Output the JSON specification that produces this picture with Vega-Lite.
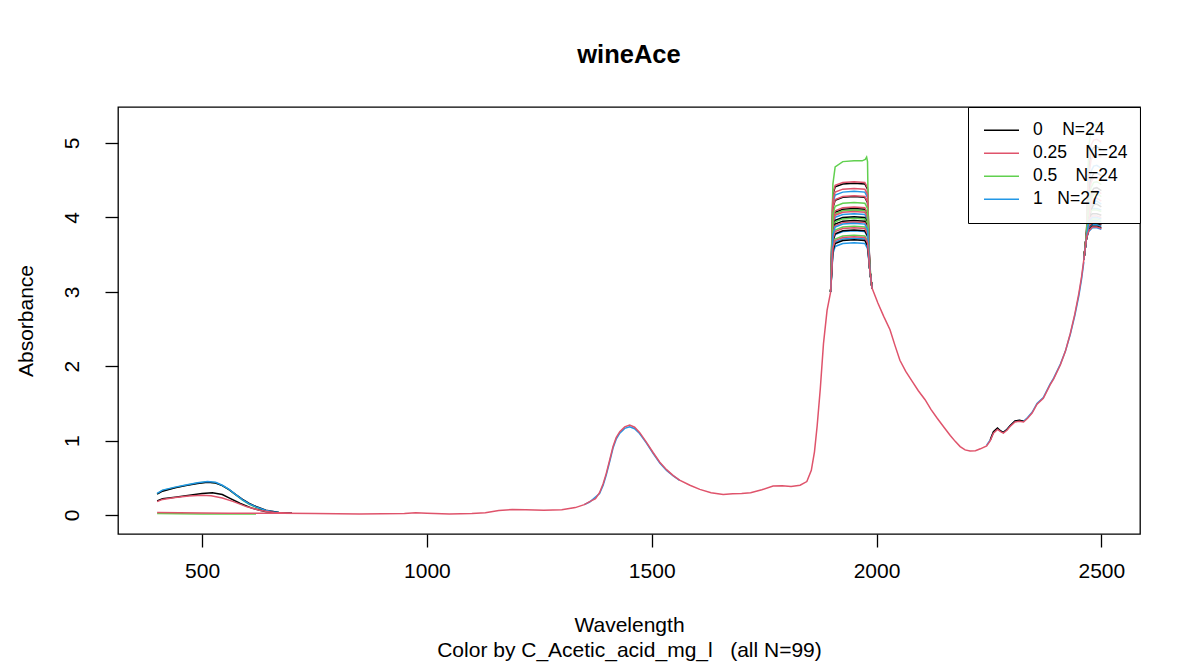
{
  "$schema": "https://vega.github.io/schema/vega-lite/v6.json",
  "width": 1022,
  "height": 427,
  "autosize": {"type": "none"},
  "padding": {"left": 118, "top": 107, "right": 37, "bottom": 128},
  "background": "white",
  "title": {"text": "wineAce", "fontSize": 25.5, "fontWeight": "bold", "font": "Liberation Sans", "color": "black", "anchor": "middle", "baseline": "alphabetic", "offset": 18},
  "config": {"view": {"stroke": "black", "strokeWidth": 1.3}, "font": "Liberation Sans"},
  "layer": [
    {
      "mark": {"type": "rule", "color": "#BEBEBE", "strokeWidth": 1.2},
      "encoding": {"y": {"datum": 0, "type": "quantitative"}}
    },
    {
      "data": {"values": [
        {"s":"k5v","g":"0.5","w":400,"a":0.285},{"s":"k5v","g":"0.5","w":412,"a":0.33},{"s":"k5v","g":"0.5","w":440,"a":0.37},{"s":"k5v","g":"0.5","w":464,"a":0.40},{"s":"k5v","g":"0.5","w":490,"a":0.43},{"s":"k5v","g":"0.5","w":512,"a":0.445},{"s":"k5v","g":"0.5","w":530,"a":0.435},{"s":"k5v","g":"0.5","w":545,"a":0.395},{"s":"k5v","g":"0.5","w":560,"a":0.34},{"s":"k5v","g":"0.5","w":575,"a":0.27},{"s":"k5v","g":"0.5","w":590,"a":0.2},{"s":"k5v","g":"0.5","w":605,"a":0.145},{"s":"k5v","g":"0.5","w":620,"a":0.105},{"s":"k5v","g":"0.5","w":642,"a":0.055},{"s":"k5v","g":"0.5","w":671,"a":0.03},{"s":"k5v","g":"0.5","w":700,"a":0.025},
        {"s":"k4v","g":"0","w":400,"a":0.28},{"s":"k4v","g":"0","w":412,"a":0.32},{"s":"k4v","g":"0","w":440,"a":0.365},{"s":"k4v","g":"0","w":464,"a":0.395},{"s":"k4v","g":"0","w":490,"a":0.425},{"s":"k4v","g":"0","w":512,"a":0.44},{"s":"k4v","g":"0","w":530,"a":0.43},{"s":"k4v","g":"0","w":545,"a":0.395},{"s":"k4v","g":"0","w":560,"a":0.34},{"s":"k4v","g":"0","w":575,"a":0.275},{"s":"k4v","g":"0","w":590,"a":0.21},{"s":"k4v","g":"0","w":605,"a":0.155},{"s":"k4v","g":"0","w":620,"a":0.115},{"s":"k4v","g":"0","w":642,"a":0.065},{"s":"k4v","g":"0","w":671,"a":0.035},{"s":"k4v","g":"0","w":700,"a":0.025},
        {"s":"k2v","g":"1","w":400,"a":0.29},{"s":"k2v","g":"1","w":412,"a":0.335},{"s":"k2v","g":"1","w":440,"a":0.375},{"s":"k2v","g":"1","w":464,"a":0.405},{"s":"k2v","g":"1","w":490,"a":0.435},{"s":"k2v","g":"1","w":512,"a":0.45},{"s":"k2v","g":"1","w":530,"a":0.44},{"s":"k2v","g":"1","w":545,"a":0.40},{"s":"k2v","g":"1","w":560,"a":0.345},{"s":"k2v","g":"1","w":575,"a":0.275},{"s":"k2v","g":"1","w":590,"a":0.205},{"s":"k2v","g":"1","w":605,"a":0.15},{"s":"k2v","g":"1","w":620,"a":0.11},{"s":"k2v","g":"1","w":642,"a":0.06},{"s":"k2v","g":"1","w":671,"a":0.035},{"s":"k2v","g":"1","w":700,"a":0.025},
        {"s":"k1v","g":"0","w":400,"a":0.19},{"s":"k1v","g":"0","w":412,"a":0.22},{"s":"k1v","g":"0","w":440,"a":0.24},{"s":"k1v","g":"0","w":464,"a":0.26},{"s":"k1v","g":"0","w":500,"a":0.29},{"s":"k1v","g":"0","w":523,"a":0.30},{"s":"k1v","g":"0","w":545,"a":0.275},{"s":"k1v","g":"0","w":560,"a":0.23},{"s":"k1v","g":"0","w":585,"a":0.155},{"s":"k1v","g":"0","w":612,"a":0.09},{"s":"k1v","g":"0","w":642,"a":0.045},{"s":"k1v","g":"0","w":671,"a":0.03},{"s":"k1v","g":"0","w":700,"a":0.025},
        {"s":"k3v","g":"0.25","w":400,"a":0.18},{"s":"k3v","g":"0.25","w":412,"a":0.21},{"s":"k3v","g":"0.25","w":440,"a":0.235},{"s":"k3v","g":"0.25","w":470,"a":0.255},{"s":"k3v","g":"0.25","w":500,"a":0.265},{"s":"k3v","g":"0.25","w":520,"a":0.26},{"s":"k3v","g":"0.25","w":545,"a":0.23},{"s":"k3v","g":"0.25","w":570,"a":0.18},{"s":"k3v","g":"0.25","w":600,"a":0.11},{"s":"k3v","g":"0.25","w":630,"a":0.06},{"s":"k3v","g":"0.25","w":660,"a":0.035},{"s":"k3v","g":"0.25","w":700,"a":0.025},
        {"s":"gv","g":"0.5","w":400,"a":0.02},{"s":"gv","g":"0.5","w":450,"a":0.018},{"s":"gv","g":"0.5","w":500,"a":0.015},{"s":"gv","g":"0.5","w":560,"a":0.013},{"s":"gv","g":"0.5","w":620,"a":0.015},

        {"s":"k1p","g":"0","w":1898,"a":3.0},{"s":"k1p","g":"0","w":1903,"a":4.31},{"s":"k1p","g":"0","w":1908,"a":4.41},{"s":"k1p","g":"0","w":1925,"a":4.45},{"s":"k1p","g":"0","w":1950,"a":4.46},{"s":"k1p","g":"0","w":1974,"a":4.45},{"s":"k1p","g":"0","w":1980,"a":4.38},{"s":"k1p","g":"0","w":1985,"a":3.3},{"s":"k1p","g":"0","w":1990,"a":3.05},
        {"s":"k2p","g":"1","w":1898,"a":3.0},{"s":"k2p","g":"1","w":1903,"a":4.20},{"s":"k2p","g":"1","w":1908,"a":4.30},{"s":"k2p","g":"1","w":1925,"a":4.34},{"s":"k2p","g":"1","w":1950,"a":4.35},{"s":"k2p","g":"1","w":1974,"a":4.34},{"s":"k2p","g":"1","w":1980,"a":4.27},{"s":"k2p","g":"1","w":1985,"a":3.3},{"s":"k2p","g":"1","w":1990,"a":3.05},
        {"s":"k3p","g":"0.25","w":1898,"a":3.0},{"s":"k3p","g":"0.25","w":1903,"a":4.33},{"s":"k3p","g":"0.25","w":1908,"a":4.43},{"s":"k3p","g":"0.25","w":1925,"a":4.47},{"s":"k3p","g":"0.25","w":1950,"a":4.48},{"s":"k3p","g":"0.25","w":1974,"a":4.47},{"s":"k3p","g":"0.25","w":1980,"a":4.40},{"s":"k3p","g":"0.25","w":1985,"a":3.3},{"s":"k3p","g":"0.25","w":1990,"a":3.05},
        {"s":"k4p","g":"0","w":1898,"a":3.0},{"s":"k4p","g":"0","w":1903,"a":4.13},{"s":"k4p","g":"0","w":1908,"a":4.23},{"s":"k4p","g":"0","w":1925,"a":4.27},{"s":"k4p","g":"0","w":1950,"a":4.28},{"s":"k4p","g":"0","w":1974,"a":4.27},{"s":"k4p","g":"0","w":1980,"a":4.20},{"s":"k4p","g":"0","w":1985,"a":3.3},{"s":"k4p","g":"0","w":1990,"a":3.05},
        {"s":"k5p","g":"0.5","w":1898,"a":3.0},{"s":"k5p","g":"0.5","w":1903,"a":4.45},{"s":"k5p","g":"0.5","w":1908,"a":4.68},{"s":"k5p","g":"0.5","w":1925,"a":4.75},{"s":"k5p","g":"0.5","w":1950,"a":4.76},{"s":"k5p","g":"0.5","w":1968,"a":4.76},{"s":"k5p","g":"0.5","w":1975,"a":4.78},{"s":"k5p","g":"0.5","w":1978,"a":4.81},{"s":"k5p","g":"0.5","w":1980,"a":4.75},{"s":"k5p","g":"0.5","w":1983,"a":3.5},{"s":"k5p","g":"0.5","w":1990,"a":3.05},
        {"s":"k6p","g":"0.25","w":1898,"a":3.0},{"s":"k6p","g":"0.25","w":1903,"a":4.24},{"s":"k6p","g":"0.25","w":1908,"a":4.34},{"s":"k6p","g":"0.25","w":1925,"a":4.38},{"s":"k6p","g":"0.25","w":1950,"a":4.39},{"s":"k6p","g":"0.25","w":1974,"a":4.38},{"s":"k6p","g":"0.25","w":1980,"a":4.31},{"s":"k6p","g":"0.25","w":1985,"a":3.3},{"s":"k6p","g":"0.25","w":1990,"a":3.05},
        {"s":"k7p","g":"1","w":1898,"a":3.0},{"s":"k7p","g":"1","w":1903,"a":3.90},{"s":"k7p","g":"1","w":1908,"a":4.00},{"s":"k7p","g":"1","w":1925,"a":4.04},{"s":"k7p","g":"1","w":1950,"a":4.05},{"s":"k7p","g":"1","w":1974,"a":4.04},{"s":"k7p","g":"1","w":1980,"a":3.97},{"s":"k7p","g":"1","w":1985,"a":3.3},{"s":"k7p","g":"1","w":1990,"a":3.05},
        {"s":"k8p","g":"0","w":1898,"a":3.0},{"s":"k8p","g":"0","w":1903,"a":3.97},{"s":"k8p","g":"0","w":1908,"a":4.07},{"s":"k8p","g":"0","w":1925,"a":4.11},{"s":"k8p","g":"0","w":1950,"a":4.12},{"s":"k8p","g":"0","w":1974,"a":4.11},{"s":"k8p","g":"0","w":1980,"a":4.04},{"s":"k8p","g":"0","w":1985,"a":3.3},{"s":"k8p","g":"0","w":1990,"a":3.05},
        {"s":"k9p","g":"0.5","w":1898,"a":3.0},{"s":"k9p","g":"0.5","w":1903,"a":3.95},{"s":"k9p","g":"0.5","w":1908,"a":4.05},{"s":"k9p","g":"0.5","w":1925,"a":4.09},{"s":"k9p","g":"0.5","w":1950,"a":4.10},{"s":"k9p","g":"0.5","w":1974,"a":4.09},{"s":"k9p","g":"0.5","w":1980,"a":4.02},{"s":"k9p","g":"0.5","w":1985,"a":3.3},{"s":"k9p","g":"0.5","w":1990,"a":3.05},
        {"s":"k10p","g":"0.25","w":1898,"a":3.0},{"s":"k10p","g":"0.25","w":1903,"a":4.14},{"s":"k10p","g":"0.25","w":1908,"a":4.24},{"s":"k10p","g":"0.25","w":1925,"a":4.28},{"s":"k10p","g":"0.25","w":1950,"a":4.29},{"s":"k10p","g":"0.25","w":1974,"a":4.28},{"s":"k10p","g":"0.25","w":1980,"a":4.21},{"s":"k10p","g":"0.25","w":1985,"a":3.3},{"s":"k10p","g":"0.25","w":1990,"a":3.05},
        {"s":"k11p","g":"1","w":1898,"a":3.0},{"s":"k11p","g":"1","w":1903,"a":3.85},{"s":"k11p","g":"1","w":1908,"a":3.95},{"s":"k11p","g":"1","w":1925,"a":3.99},{"s":"k11p","g":"1","w":1950,"a":4.00},{"s":"k11p","g":"1","w":1974,"a":3.99},{"s":"k11p","g":"1","w":1980,"a":3.92},{"s":"k11p","g":"1","w":1985,"a":3.3},{"s":"k11p","g":"1","w":1990,"a":3.05},
        {"s":"k12p","g":"0","w":1898,"a":3.0},{"s":"k12p","g":"0","w":1903,"a":3.86},{"s":"k12p","g":"0","w":1908,"a":3.96},{"s":"k12p","g":"0","w":1925,"a":4.00},{"s":"k12p","g":"0","w":1950,"a":4.01},{"s":"k12p","g":"0","w":1974,"a":4.00},{"s":"k12p","g":"0","w":1980,"a":3.93},{"s":"k12p","g":"0","w":1985,"a":3.3},{"s":"k12p","g":"0","w":1990,"a":3.05},
        {"s":"k13p","g":"0.5","w":1898,"a":3.0},{"s":"k13p","g":"0.5","w":1903,"a":3.84},{"s":"k13p","g":"0.5","w":1908,"a":3.94},{"s":"k13p","g":"0.5","w":1925,"a":3.98},{"s":"k13p","g":"0.5","w":1950,"a":3.99},{"s":"k13p","g":"0.5","w":1974,"a":3.98},{"s":"k13p","g":"0.5","w":1980,"a":3.91},{"s":"k13p","g":"0.5","w":1985,"a":3.3},{"s":"k13p","g":"0.5","w":1990,"a":3.05},
        {"s":"k14p","g":"0.25","w":1898,"a":3.0},{"s":"k14p","g":"0.25","w":1903,"a":3.99},{"s":"k14p","g":"0.25","w":1908,"a":4.09},{"s":"k14p","g":"0.25","w":1925,"a":4.13},{"s":"k14p","g":"0.25","w":1950,"a":4.14},{"s":"k14p","g":"0.25","w":1974,"a":4.13},{"s":"k14p","g":"0.25","w":1980,"a":4.06},{"s":"k14p","g":"0.25","w":1985,"a":3.3},{"s":"k14p","g":"0.25","w":1990,"a":3.05},
        {"s":"k15p","g":"1","w":1898,"a":3.0},{"s":"k15p","g":"1","w":1903,"a":3.67},{"s":"k15p","g":"1","w":1908,"a":3.77},{"s":"k15p","g":"1","w":1925,"a":3.81},{"s":"k15p","g":"1","w":1950,"a":3.82},{"s":"k15p","g":"1","w":1974,"a":3.81},{"s":"k15p","g":"1","w":1980,"a":3.74},{"s":"k15p","g":"1","w":1985,"a":3.3},{"s":"k15p","g":"1","w":1990,"a":3.05},
        {"s":"k16p","g":"0","w":1898,"a":3.0},{"s":"k16p","g":"0","w":1903,"a":3.81},{"s":"k16p","g":"0","w":1908,"a":3.91},{"s":"k16p","g":"0","w":1925,"a":3.95},{"s":"k16p","g":"0","w":1950,"a":3.96},{"s":"k16p","g":"0","w":1974,"a":3.95},{"s":"k16p","g":"0","w":1980,"a":3.88},{"s":"k16p","g":"0","w":1985,"a":3.3},{"s":"k16p","g":"0","w":1990,"a":3.05},
        {"s":"k17p","g":"0.5","w":1898,"a":3.0},{"s":"k17p","g":"0.5","w":1903,"a":3.73},{"s":"k17p","g":"0.5","w":1908,"a":3.83},{"s":"k17p","g":"0.5","w":1925,"a":3.87},{"s":"k17p","g":"0.5","w":1950,"a":3.88},{"s":"k17p","g":"0.5","w":1974,"a":3.87},{"s":"k17p","g":"0.5","w":1980,"a":3.80},{"s":"k17p","g":"0.5","w":1985,"a":3.3},{"s":"k17p","g":"0.5","w":1990,"a":3.05},
        {"s":"k18p","g":"0.25","w":1898,"a":3.0},{"s":"k18p","g":"0.25","w":1903,"a":3.93},{"s":"k18p","g":"0.25","w":1908,"a":4.03},{"s":"k18p","g":"0.25","w":1925,"a":4.07},{"s":"k18p","g":"0.25","w":1950,"a":4.08},{"s":"k18p","g":"0.25","w":1974,"a":4.07},{"s":"k18p","g":"0.25","w":1980,"a":4.00},{"s":"k18p","g":"0.25","w":1985,"a":3.3},{"s":"k18p","g":"0.25","w":1990,"a":3.05},
        {"s":"k19p","g":"1","w":1898,"a":3.0},{"s":"k19p","g":"1","w":1903,"a":3.57},{"s":"k19p","g":"1","w":1908,"a":3.67},{"s":"k19p","g":"1","w":1925,"a":3.71},{"s":"k19p","g":"1","w":1950,"a":3.72},{"s":"k19p","g":"1","w":1974,"a":3.71},{"s":"k19p","g":"1","w":1980,"a":3.64},{"s":"k19p","g":"1","w":1985,"a":3.3},{"s":"k19p","g":"1","w":1990,"a":3.05},
        {"s":"k20p","g":"0","w":1898,"a":3.0},{"s":"k20p","g":"0","w":1903,"a":3.68},{"s":"k20p","g":"0","w":1908,"a":3.78},{"s":"k20p","g":"0","w":1925,"a":3.82},{"s":"k20p","g":"0","w":1950,"a":3.83},{"s":"k20p","g":"0","w":1974,"a":3.82},{"s":"k20p","g":"0","w":1980,"a":3.75},{"s":"k20p","g":"0","w":1985,"a":3.3},{"s":"k20p","g":"0","w":1990,"a":3.05},
        {"s":"k21p","g":"0.5","w":1898,"a":3.0},{"s":"k21p","g":"0.5","w":1903,"a":3.61},{"s":"k21p","g":"0.5","w":1908,"a":3.71},{"s":"k21p","g":"0.5","w":1925,"a":3.75},{"s":"k21p","g":"0.5","w":1950,"a":3.76},{"s":"k21p","g":"0.5","w":1974,"a":3.75},{"s":"k21p","g":"0.5","w":1980,"a":3.68},{"s":"k21p","g":"0.5","w":1985,"a":3.3},{"s":"k21p","g":"0.5","w":1990,"a":3.05},
        {"s":"k22p","g":"0.25","w":1898,"a":3.0},{"s":"k22p","g":"0.25","w":1903,"a":3.79},{"s":"k22p","g":"0.25","w":1908,"a":3.89},{"s":"k22p","g":"0.25","w":1925,"a":3.93},{"s":"k22p","g":"0.25","w":1950,"a":3.94},{"s":"k22p","g":"0.25","w":1974,"a":3.93},{"s":"k22p","g":"0.25","w":1980,"a":3.86},{"s":"k22p","g":"0.25","w":1985,"a":3.3},{"s":"k22p","g":"0.25","w":1990,"a":3.05},
        {"s":"k23p","g":"1","w":1898,"a":3.0},{"s":"k23p","g":"1","w":1903,"a":3.51},{"s":"k23p","g":"1","w":1908,"a":3.61},{"s":"k23p","g":"1","w":1925,"a":3.65},{"s":"k23p","g":"1","w":1950,"a":3.66},{"s":"k23p","g":"1","w":1974,"a":3.65},{"s":"k23p","g":"1","w":1980,"a":3.58},{"s":"k23p","g":"1","w":1985,"a":3.3},{"s":"k23p","g":"1","w":1990,"a":3.05},
        {"s":"k24p","g":"0","w":1898,"a":3.0},{"s":"k24p","g":"0","w":1903,"a":3.55},{"s":"k24p","g":"0","w":1908,"a":3.65},{"s":"k24p","g":"0","w":1925,"a":3.69},{"s":"k24p","g":"0","w":1950,"a":3.70},{"s":"k24p","g":"0","w":1974,"a":3.69},{"s":"k24p","g":"0","w":1980,"a":3.62},{"s":"k24p","g":"0","w":1985,"a":3.3},{"s":"k24p","g":"0","w":1990,"a":3.05},
        {"s":"k25p","g":"0.5","w":1898,"a":3.0},{"s":"k25p","g":"0.5","w":1903,"a":4.05},{"s":"k25p","g":"0.5","w":1908,"a":4.15},{"s":"k25p","g":"0.5","w":1925,"a":4.19},{"s":"k25p","g":"0.5","w":1950,"a":4.20},{"s":"k25p","g":"0.5","w":1974,"a":4.19},{"s":"k25p","g":"0.5","w":1980,"a":4.12},{"s":"k25p","g":"0.5","w":1985,"a":3.3},{"s":"k25p","g":"0.5","w":1990,"a":3.05},
        {"s":"k26p","g":"0.25","w":1898,"a":3.0},{"s":"k26p","g":"0.25","w":1903,"a":3.71},{"s":"k26p","g":"0.25","w":1908,"a":3.81},{"s":"k26p","g":"0.25","w":1925,"a":3.85},{"s":"k26p","g":"0.25","w":1950,"a":3.86},{"s":"k26p","g":"0.25","w":1974,"a":3.85},{"s":"k26p","g":"0.25","w":1980,"a":3.78},{"s":"k26p","g":"0.25","w":1985,"a":3.3},{"s":"k26p","g":"0.25","w":1990,"a":3.05},
        {"s":"k27p","g":"1","w":1898,"a":3.0},{"s":"k27p","g":"1","w":1903,"a":3.77},{"s":"k27p","g":"1","w":1908,"a":3.87},{"s":"k27p","g":"1","w":1925,"a":3.91},{"s":"k27p","g":"1","w":1950,"a":3.92},{"s":"k27p","g":"1","w":1974,"a":3.91},{"s":"k27p","g":"1","w":1980,"a":3.84},{"s":"k27p","g":"1","w":1985,"a":3.3},{"s":"k27p","g":"1","w":1990,"a":3.05},
        {"s":"k28p","g":"0.25","w":1898,"a":3.0},{"s":"k28p","g":"0.25","w":1903,"a":3.59},{"s":"k28p","g":"0.25","w":1908,"a":3.69},{"s":"k28p","g":"0.25","w":1925,"a":3.73},{"s":"k28p","g":"0.25","w":1950,"a":3.74},{"s":"k28p","g":"0.25","w":1974,"a":3.73},{"s":"k28p","g":"0.25","w":1980,"a":3.66},{"s":"k28p","g":"0.25","w":1985,"a":3.3},{"s":"k28p","g":"0.25","w":1990,"a":3.05},

        {"s":"k1e","g":"0","w":2461,"a":3.43},{"s":"k1e","g":"0","w":2467,"a":3.78},{"s":"k1e","g":"0","w":2472,"a":4.65},{"s":"k1e","g":"0","w":2477,"a":4.87},{"s":"k1e","g":"0","w":2483,"a":4.94},{"s":"k1e","g":"0","w":2490,"a":4.95},{"s":"k1e","g":"0","w":2500,"a":4.91},
        {"s":"k2e","g":"1","w":2461,"a":3.43},{"s":"k2e","g":"1","w":2467,"a":3.78},{"s":"k2e","g":"1","w":2472,"a":4.40},{"s":"k2e","g":"1","w":2477,"a":4.62},{"s":"k2e","g":"1","w":2483,"a":4.69},{"s":"k2e","g":"1","w":2490,"a":4.70},{"s":"k2e","g":"1","w":2500,"a":4.66},
        {"s":"k3e","g":"0.25","w":2461,"a":3.43},{"s":"k3e","g":"0.25","w":2467,"a":3.78},{"s":"k3e","g":"0.25","w":2472,"a":4.75},{"s":"k3e","g":"0.25","w":2477,"a":4.97},{"s":"k3e","g":"0.25","w":2483,"a":5.04},{"s":"k3e","g":"0.25","w":2490,"a":5.05},{"s":"k3e","g":"0.25","w":2500,"a":5.01},
        {"s":"k4e","g":"0","w":2461,"a":3.43},{"s":"k4e","g":"0","w":2467,"a":3.78},{"s":"k4e","g":"0","w":2472,"a":4.30},{"s":"k4e","g":"0","w":2477,"a":4.52},{"s":"k4e","g":"0","w":2483,"a":4.59},{"s":"k4e","g":"0","w":2490,"a":4.60},{"s":"k4e","g":"0","w":2500,"a":4.56},
        {"s":"k5e","g":"0.5","w":2461,"a":3.43},{"s":"k5e","g":"0.5","w":2467,"a":3.78},{"s":"k5e","g":"0.5","w":2472,"a":4.95},{"s":"k5e","g":"0.5","w":2477,"a":5.17},{"s":"k5e","g":"0.5","w":2483,"a":5.24},{"s":"k5e","g":"0.5","w":2490,"a":5.25},{"s":"k5e","g":"0.5","w":2500,"a":5.21},
        {"s":"k6e","g":"0.25","w":2461,"a":3.43},{"s":"k6e","g":"0.25","w":2467,"a":3.78},{"s":"k6e","g":"0.25","w":2472,"a":4.55},{"s":"k6e","g":"0.25","w":2477,"a":4.77},{"s":"k6e","g":"0.25","w":2483,"a":4.84},{"s":"k6e","g":"0.25","w":2490,"a":4.85},{"s":"k6e","g":"0.25","w":2500,"a":4.81},
        {"s":"k7e","g":"1","w":2461,"a":3.43},{"s":"k7e","g":"1","w":2467,"a":3.78},{"s":"k7e","g":"1","w":2472,"a":3.92},{"s":"k7e","g":"1","w":2477,"a":4.14},{"s":"k7e","g":"1","w":2483,"a":4.21},{"s":"k7e","g":"1","w":2490,"a":4.22},{"s":"k7e","g":"1","w":2500,"a":4.18},
        {"s":"k8e","g":"0","w":2461,"a":3.43},{"s":"k8e","g":"0","w":2467,"a":3.78},{"s":"k8e","g":"0","w":2472,"a":4.10},{"s":"k8e","g":"0","w":2477,"a":4.32},{"s":"k8e","g":"0","w":2483,"a":4.39},{"s":"k8e","g":"0","w":2490,"a":4.40},{"s":"k8e","g":"0","w":2500,"a":4.36},
        {"s":"k9e","g":"0.5","w":2461,"a":3.43},{"s":"k9e","g":"0.5","w":2467,"a":3.78},{"s":"k9e","g":"0.5","w":2472,"a":4.02},{"s":"k9e","g":"0.5","w":2477,"a":4.24},{"s":"k9e","g":"0.5","w":2483,"a":4.31},{"s":"k9e","g":"0.5","w":2490,"a":4.32},{"s":"k9e","g":"0.5","w":2500,"a":4.28},
        {"s":"k10e","g":"0.25","w":2461,"a":3.43},{"s":"k10e","g":"0.25","w":2467,"a":3.78},{"s":"k10e","g":"0.25","w":2472,"a":4.25},{"s":"k10e","g":"0.25","w":2477,"a":4.47},{"s":"k10e","g":"0.25","w":2483,"a":4.54},{"s":"k10e","g":"0.25","w":2490,"a":4.55},{"s":"k10e","g":"0.25","w":2500,"a":4.51},
        {"s":"k11e","g":"1","w":2461,"a":3.43},{"s":"k11e","g":"1","w":2467,"a":3.72},{"s":"k11e","g":"1","w":2472,"a":4.07},{"s":"k11e","g":"1","w":2480,"a":4.12},{"s":"k11e","g":"1","w":2490,"a":4.12},{"s":"k11e","g":"1","w":2500,"a":4.10},
        {"s":"k12e","g":"0","w":2461,"a":3.43},{"s":"k12e","g":"0","w":2467,"a":3.78},{"s":"k12e","g":"0","w":2472,"a":3.88},{"s":"k12e","g":"0","w":2477,"a":4.10},{"s":"k12e","g":"0","w":2483,"a":4.17},{"s":"k12e","g":"0","w":2490,"a":4.18},{"s":"k12e","g":"0","w":2500,"a":4.14},
        {"s":"k13e","g":"0.5","w":2461,"a":3.43},{"s":"k13e","g":"0.5","w":2467,"a":3.72},{"s":"k13e","g":"0.5","w":2472,"a":4.05},{"s":"k13e","g":"0.5","w":2480,"a":4.10},{"s":"k13e","g":"0.5","w":2490,"a":4.10},{"s":"k13e","g":"0.5","w":2500,"a":4.08},
        {"s":"k14e","g":"0.25","w":2461,"a":3.43},{"s":"k14e","g":"0.25","w":2467,"a":3.78},{"s":"k14e","g":"0.25","w":2472,"a":4.06},{"s":"k14e","g":"0.25","w":2477,"a":4.28},{"s":"k14e","g":"0.25","w":2483,"a":4.35},{"s":"k14e","g":"0.25","w":2490,"a":4.36},{"s":"k14e","g":"0.25","w":2500,"a":4.32},
        {"s":"k15e","g":"1","w":2461,"a":3.43},{"s":"k15e","g":"1","w":2467,"a":3.72},{"s":"k15e","g":"1","w":2472,"a":3.91},{"s":"k15e","g":"1","w":2480,"a":3.96},{"s":"k15e","g":"1","w":2490,"a":3.96},{"s":"k15e","g":"1","w":2500,"a":3.94},
        {"s":"k16e","g":"0","w":2461,"a":3.43},{"s":"k16e","g":"0","w":2467,"a":3.72},{"s":"k16e","g":"0","w":2472,"a":4.00},{"s":"k16e","g":"0","w":2480,"a":4.05},{"s":"k16e","g":"0","w":2490,"a":4.05},{"s":"k16e","g":"0","w":2500,"a":4.03},
        {"s":"k17e","g":"0.5","w":2461,"a":3.43},{"s":"k17e","g":"0.5","w":2467,"a":3.72},{"s":"k17e","g":"0.5","w":2472,"a":3.93},{"s":"k17e","g":"0.5","w":2480,"a":3.98},{"s":"k17e","g":"0.5","w":2490,"a":3.98},{"s":"k17e","g":"0.5","w":2500,"a":3.96},
        {"s":"k18e","g":"0.25","w":2461,"a":3.43},{"s":"k18e","g":"0.25","w":2467,"a":3.78},{"s":"k18e","g":"0.25","w":2472,"a":3.96},{"s":"k18e","g":"0.25","w":2477,"a":4.18},{"s":"k18e","g":"0.25","w":2483,"a":4.25},{"s":"k18e","g":"0.25","w":2490,"a":4.26},{"s":"k18e","g":"0.25","w":2500,"a":4.22},
        {"s":"k19e","g":"1","w":2461,"a":3.43},{"s":"k19e","g":"1","w":2467,"a":3.72},{"s":"k19e","g":"1","w":2472,"a":3.85},{"s":"k19e","g":"1","w":2480,"a":3.90},{"s":"k19e","g":"1","w":2490,"a":3.90},{"s":"k19e","g":"1","w":2500,"a":3.88},
        {"s":"k20e","g":"0","w":2461,"a":3.43},{"s":"k20e","g":"0","w":2467,"a":3.72},{"s":"k20e","g":"0","w":2472,"a":3.87},{"s":"k20e","g":"0","w":2480,"a":3.92},{"s":"k20e","g":"0","w":2490,"a":3.92},{"s":"k20e","g":"0","w":2500,"a":3.90},
        {"s":"k21e","g":"0.5","w":2461,"a":3.43},{"s":"k21e","g":"0.5","w":2467,"a":3.72},{"s":"k21e","g":"0.5","w":2472,"a":3.89},{"s":"k21e","g":"0.5","w":2480,"a":3.94},{"s":"k21e","g":"0.5","w":2490,"a":3.94},{"s":"k21e","g":"0.5","w":2500,"a":3.92},
        {"s":"k22e","g":"0.25","w":2461,"a":3.43},{"s":"k22e","g":"0.25","w":2467,"a":3.72},{"s":"k22e","g":"0.25","w":2472,"a":3.97},{"s":"k22e","g":"0.25","w":2480,"a":4.02},{"s":"k22e","g":"0.25","w":2490,"a":4.02},{"s":"k22e","g":"0.25","w":2500,"a":4.00},
        {"s":"k23e","g":"1","w":2461,"a":3.43},{"s":"k23e","g":"1","w":2467,"a":3.72},{"s":"k23e","g":"1","w":2472,"a":3.81},{"s":"k23e","g":"1","w":2480,"a":3.86},{"s":"k23e","g":"1","w":2490,"a":3.86},{"s":"k23e","g":"1","w":2500,"a":3.84},
        {"s":"k24e","g":"0","w":2461,"a":3.43},{"s":"k24e","g":"0","w":2467,"a":3.72},{"s":"k24e","g":"0","w":2472,"a":3.83},{"s":"k24e","g":"0","w":2480,"a":3.88},{"s":"k24e","g":"0","w":2490,"a":3.88},{"s":"k24e","g":"0","w":2500,"a":3.86},
        {"s":"k25e","g":"0.5","w":2461,"a":3.43},{"s":"k25e","g":"0.5","w":2467,"a":3.78},{"s":"k25e","g":"0.5","w":2472,"a":4.18},{"s":"k25e","g":"0.5","w":2477,"a":4.40},{"s":"k25e","g":"0.5","w":2483,"a":4.47},{"s":"k25e","g":"0.5","w":2490,"a":4.48},{"s":"k25e","g":"0.5","w":2500,"a":4.44},
        {"s":"k26e","g":"0.25","w":2461,"a":3.43},{"s":"k26e","g":"0.25","w":2467,"a":3.72},{"s":"k26e","g":"0.25","w":2472,"a":3.88},{"s":"k26e","g":"0.25","w":2480,"a":3.93},{"s":"k26e","g":"0.25","w":2490,"a":3.93},{"s":"k26e","g":"0.25","w":2500,"a":3.91},
        {"s":"k27e","g":"1","w":2461,"a":3.43},{"s":"k27e","g":"1","w":2467,"a":3.72},{"s":"k27e","g":"1","w":2472,"a":3.95},{"s":"k27e","g":"1","w":2480,"a":4.00},{"s":"k27e","g":"1","w":2490,"a":4.00},{"s":"k27e","g":"1","w":2500,"a":3.98},
        {"s":"k28e","g":"0.25","w":2461,"a":3.43},{"s":"k28e","g":"0.25","w":2467,"a":3.72},{"s":"k28e","g":"0.25","w":2472,"a":3.82},{"s":"k28e","g":"0.25","w":2480,"a":3.87},{"s":"k28e","g":"0.25","w":2490,"a":3.87},{"s":"k28e","g":"0.25","w":2500,"a":3.85},

        {"s":"b1","g":"1","w":1350,"a":0.14},{"s":"b1","g":"1","w":1362,"a":0.175},{"s":"b1","g":"1","w":1384,"a":0.29},{"s":"b1","g":"1","w":1392,"a":0.40},{"s":"b1","g":"1","w":1399,"a":0.54},{"s":"b1","g":"1","w":1407,"a":0.73},{"s":"b1","g":"1","w":1414,"a":0.90},{"s":"b1","g":"1","w":1421,"a":1.02},{"s":"b1","g":"1","w":1429,"a":1.10},{"s":"b1","g":"1","w":1440,"a":1.165},{"s":"b1","g":"1","w":1451,"a":1.185},{"s":"b1","g":"1","w":1462,"a":1.16},{"s":"b1","g":"1","w":1473,"a":1.095},{"s":"b1","g":"1","w":1488,"a":0.97},{"s":"b1","g":"1","w":1503,"a":0.83},{"s":"b1","g":"1","w":1518,"a":0.70},{"s":"b1","g":"1","w":1533,"a":0.60},{"s":"b1","g":"1","w":1548,"a":0.525},{"s":"b1","g":"1","w":1562,"a":0.465},
        {"s":"b2","g":"1","w":2245,"a":0.94},{"s":"b2","g":"1","w":2253,"a":1.01},{"s":"b2","g":"1","w":2260,"a":1.11},{"s":"b2","g":"1","w":2269,"a":1.16},{"s":"b2","g":"1","w":2276,"a":1.13},{"s":"b2","g":"1","w":2282,"a":1.11},{"s":"b2","g":"1","w":2290,"a":1.15},{"s":"b2","g":"1","w":2297,"a":1.20},{"s":"b2","g":"1","w":2308,"a":1.26},{"s":"b2","g":"1","w":2318,"a":1.27},{"s":"b2","g":"1","w":2327,"a":1.26},{"s":"b2","g":"1","w":2336,"a":1.31},{"s":"b2","g":"1","w":2346,"a":1.38},{"s":"b2","g":"1","w":2357,"a":1.50},{"s":"b2","g":"1","w":2371,"a":1.58},{"s":"b2","g":"1","w":2386,"a":1.76},{"s":"b2","g":"1","w":2394,"a":1.84},{"s":"b2","g":"1","w":2409,"a":2.03},{"s":"b2","g":"1","w":2420,"a":2.2},{"s":"b2","g":"1","w":2431,"a":2.43},{"s":"b2","g":"1","w":2441,"a":2.68},{"s":"b2","g":"1","w":2450,"a":2.95},{"s":"b2","g":"1","w":2456,"a":3.17},{"s":"b2","g":"1","w":2461,"a":3.40},
        {"s":"z2","g":"0","w":2253,"a":1.01},{"s":"z2","g":"0","w":2260,"a":1.12},{"s":"z2","g":"0","w":2269,"a":1.17},{"s":"z2","g":"0","w":2276,"a":1.13},{"s":"z2","g":"0","w":2282,"a":1.11},{"s":"z2","g":"0","w":2290,"a":1.15},{"s":"z2","g":"0","w":2297,"a":1.20},{"s":"z2","g":"0","w":2308,"a":1.265},{"s":"z2","g":"0","w":2318,"a":1.275},{"s":"z2","g":"0","w":2327,"a":1.26},

        {"s":"r1","g":"0.25","w":400,"a":0.035},{"s":"r1","g":"0.25","w":450,"a":0.03},{"s":"r1","g":"0.25","w":500,"a":0.027},{"s":"r1","g":"0.25","w":560,"a":0.025},{"s":"r1","g":"0.25","w":620,"a":0.025},{"s":"r1","g":"0.25","w":680,"a":0.025},{"s":"r1","g":"0.25","w":750,"a":0.02},{"s":"r1","g":"0.25","w":850,"a":0.015},{"s":"r1","g":"0.25","w":950,"a":0.02},{"s":"r1","g":"0.25","w":975,"a":0.03},{"s":"r1","g":"0.25","w":1000,"a":0.025},{"s":"r1","g":"0.25","w":1050,"a":0.015},{"s":"r1","g":"0.25","w":1100,"a":0.02},{"s":"r1","g":"0.25","w":1130,"a":0.03},{"s":"r1","g":"0.25","w":1160,"a":0.06},{"s":"r1","g":"0.25","w":1190,"a":0.075},{"s":"r1","g":"0.25","w":1220,"a":0.07},{"s":"r1","g":"0.25","w":1260,"a":0.065},{"s":"r1","g":"0.25","w":1300,"a":0.07},{"s":"r1","g":"0.25","w":1330,"a":0.1},{"s":"r1","g":"0.25","w":1350,"a":0.14},{"s":"r1","g":"0.25","w":1362,"a":0.18},{"s":"r1","g":"0.25","w":1375,"a":0.22},{"s":"r1","g":"0.25","w":1384,"a":0.3},{"s":"r1","g":"0.25","w":1392,"a":0.42},{"s":"r1","g":"0.25","w":1399,"a":0.56},{"s":"r1","g":"0.25","w":1407,"a":0.75},{"s":"r1","g":"0.25","w":1414,"a":0.92},{"s":"r1","g":"0.25","w":1421,"a":1.04},{"s":"r1","g":"0.25","w":1429,"a":1.12},{"s":"r1","g":"0.25","w":1440,"a":1.185},{"s":"r1","g":"0.25","w":1451,"a":1.21},{"s":"r1","g":"0.25","w":1462,"a":1.18},{"s":"r1","g":"0.25","w":1473,"a":1.11},{"s":"r1","g":"0.25","w":1488,"a":0.98},{"s":"r1","g":"0.25","w":1503,"a":0.84},{"s":"r1","g":"0.25","w":1518,"a":0.71},{"s":"r1","g":"0.25","w":1533,"a":0.61},{"s":"r1","g":"0.25","w":1548,"a":0.53},{"s":"r1","g":"0.25","w":1562,"a":0.47},{"s":"r1","g":"0.25","w":1585,"a":0.40},{"s":"r1","g":"0.25","w":1607,"a":0.345},{"s":"r1","g":"0.25","w":1632,"a":0.30},{"s":"r1","g":"0.25","w":1659,"a":0.275},{"s":"r1","g":"0.25","w":1680,"a":0.285},{"s":"r1","g":"0.25","w":1700,"a":0.29},{"s":"r1","g":"0.25","w":1720,"a":0.30},{"s":"r1","g":"0.25","w":1745,"a":0.34},{"s":"r1","g":"0.25","w":1770,"a":0.39},{"s":"r1","g":"0.25","w":1790,"a":0.395},{"s":"r1","g":"0.25","w":1810,"a":0.385},{"s":"r1","g":"0.25","w":1830,"a":0.40},{"s":"r1","g":"0.25","w":1845,"a":0.45},{"s":"r1","g":"0.25","w":1855,"a":0.6},{"s":"r1","g":"0.25","w":1862,"a":0.85},{"s":"r1","g":"0.25","w":1868,"a":1.2},{"s":"r1","g":"0.25","w":1875,"a":1.7},{"s":"r1","g":"0.25","w":1882,"a":2.3},{"s":"r1","g":"0.25","w":1890,"a":2.75},{"s":"r1","g":"0.25","w":1898,"a":3.0},
        {"s":"r2","g":"0.25","w":1990,"a":3.05},{"s":"r2","g":"0.25","w":2003,"a":2.85},{"s":"r2","g":"0.25","w":2016,"a":2.67},{"s":"r2","g":"0.25","w":2030,"a":2.49},{"s":"r2","g":"0.25","w":2041,"a":2.28},{"s":"r2","g":"0.25","w":2052,"a":2.08},{"s":"r2","g":"0.25","w":2065,"a":1.93},{"s":"r2","g":"0.25","w":2079,"a":1.80},{"s":"r2","g":"0.25","w":2093,"a":1.67},{"s":"r2","g":"0.25","w":2108,"a":1.55},{"s":"r2","g":"0.25","w":2121,"a":1.42},{"s":"r2","g":"0.25","w":2135,"a":1.30},{"s":"r2","g":"0.25","w":2150,"a":1.18},{"s":"r2","g":"0.25","w":2164,"a":1.07},{"s":"r2","g":"0.25","w":2175,"a":0.99},{"s":"r2","g":"0.25","w":2186,"a":0.92},{"s":"r2","g":"0.25","w":2197,"a":0.875},{"s":"r2","g":"0.25","w":2208,"a":0.86},{"s":"r2","g":"0.25","w":2220,"a":0.865},{"s":"r2","g":"0.25","w":2231,"a":0.89},{"s":"r2","g":"0.25","w":2245,"a":0.93},{"s":"r2","g":"0.25","w":2253,"a":1.0},{"s":"r2","g":"0.25","w":2260,"a":1.10},{"s":"r2","g":"0.25","w":2269,"a":1.15},{"s":"r2","g":"0.25","w":2276,"a":1.12},{"s":"r2","g":"0.25","w":2282,"a":1.10},{"s":"r2","g":"0.25","w":2290,"a":1.14},{"s":"r2","g":"0.25","w":2297,"a":1.19},{"s":"r2","g":"0.25","w":2308,"a":1.25},{"s":"r2","g":"0.25","w":2318,"a":1.26},{"s":"r2","g":"0.25","w":2327,"a":1.25},{"s":"r2","g":"0.25","w":2336,"a":1.30},{"s":"r2","g":"0.25","w":2346,"a":1.37},{"s":"r2","g":"0.25","w":2357,"a":1.49},{"s":"r2","g":"0.25","w":2371,"a":1.57},{"s":"r2","g":"0.25","w":2386,"a":1.75},{"s":"r2","g":"0.25","w":2394,"a":1.83},{"s":"r2","g":"0.25","w":2409,"a":2.02},{"s":"r2","g":"0.25","w":2420,"a":2.2},{"s":"r2","g":"0.25","w":2431,"a":2.44},{"s":"r2","g":"0.25","w":2441,"a":2.7},{"s":"r2","g":"0.25","w":2450,"a":2.98},{"s":"r2","g":"0.25","w":2456,"a":3.2},{"s":"r2","g":"0.25","w":2461,"a":3.43}
      ]},
      "mark": {"type": "line", "strokeWidth": 1.5},
      "encoding": {
        "x": {
          "field": "w", "type": "quantitative",
          "scale": {"domain": [313, 2586], "nice": false, "zero": false},
          "axis": {
            "values": [500, 1000, 1500, 2000, 2500], "format": "d",
            "grid": false, "domain": false,
            "tickSize": 13, "tickColor": "black", "tickWidth": 1.3,
            "labelFontSize": 21, "labelColor": "black", "labelPadding": 13, "labelFlush": false,
            "title": ["Wavelength", "Color by C_Acetic_acid_mg_l\u00a0\u00a0\u00a0(all N=99)"],
            "titleFontSize": 21, "titleFontWeight": "normal", "titleColor": "black",
            "titleLineHeight": 25, "titlePadding": 33
          }
        },
        "y": {
          "field": "a", "type": "quantitative",
          "scale": {"domain": [-0.255, 5.484], "nice": false, "zero": false},
          "axis": {
            "values": [0, 1, 2, 3, 4, 5], "format": "d",
            "grid": false, "domain": false,
            "tickSize": 13, "tickColor": "black", "tickWidth": 1.3,
            "labelFontSize": 21, "labelColor": "black", "labelAngle": -90,
            "labelAlign": "center", "labelBaseline": "alphabetic", "labelPadding": 27,
            "title": "Absorbance", "titleFontSize": 21, "titleFontWeight": "normal",
            "titleColor": "black", "titlePadding": 25
          }
        },
        "detail": {"field": "s"},
        "color": {
          "field": "g", "type": "nominal",
          "scale": {"domain": ["0", "0.25", "0.5", "1"], "range": ["#000000", "#DF536B", "#61D04F", "#2297E6"]},
          "legend": {
            "title": null,
            "orient": "top-right", "offset": 0,
            "fillColor": "rgba(255,255,255,0.88)", "strokeColor": "black",
            "padding": 12, "rowPadding": 0, "clipHeight": 22.5,
            "symbolType": "stroke", "symbolSize": 1225, "symbolStrokeWidth": 1.5, "symbolOffset": 3,
            "labelFontSize": 17.5, "labelColor": "black", "labelOffset": 13,
            "labelExpr": "datum.label == '0' ? '0\u00a0\u00a0\u00a0\u00a0N=24' : datum.label == '0.25' ? '0.25\u00a0\u00a0\u00a0\u2009N=24' : datum.label == '0.5' ? '0.5\u00a0\u00a0\u00a0\u2009N=24' : '1\u00a0\u00a0\u00a0N=27'"
          }
        }
      }
    }
  ]
}
